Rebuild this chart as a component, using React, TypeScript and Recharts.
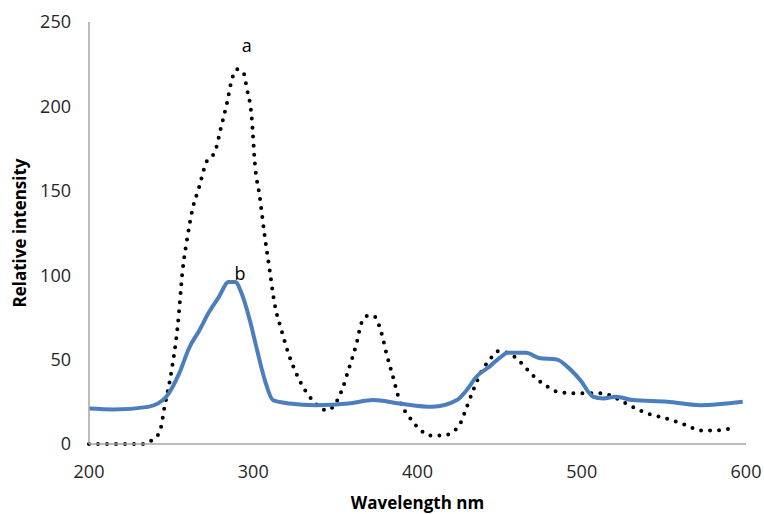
import React from 'react';
import { LineChart, Line, XAxis, YAxis, ReferenceDot, Label } from 'recharts';

// Curve a (dotted): wavelength (nm) and relative intensity
const waveA = [200, 234, 238, 243, 246, 250, 254, 257, 260, 263, 267, 271, 277, 280, 284, 287, 290, 294, 296, 299, 301, 304, 307, 310, 313, 317, 322, 328, 336, 345, 354, 358, 363, 366, 370, 373, 378, 381, 385, 389, 395, 401, 408, 416, 421, 426, 430, 434, 439, 444, 449, 455, 460, 466, 472, 479, 485, 497, 507, 513, 519, 525, 531, 540, 548, 555, 564, 572, 581, 592];
const intensityA = [0, 0, 2, 7, 22, 42, 70, 103, 123, 139, 152, 166, 174, 186, 202, 216, 222, 220, 211, 194, 166, 146, 123, 103, 83, 68, 52, 38, 26, 20, 32, 44, 60, 72, 76, 76, 66, 54, 40, 26, 16, 9, 5, 5, 7, 12, 22, 32, 43, 50, 55, 54, 51, 45, 39, 34, 31, 30, 30, 30, 28, 25, 22, 18, 16, 14, 11, 8, 8, 9.5];

// Curve b (solid blue)
const waveB = [200, 215, 236, 247, 255, 261, 267, 273, 279, 285, 289, 293, 298, 302, 307, 312, 322, 338, 358, 373, 389, 409, 424, 430, 436, 444, 450, 455, 466, 474, 485, 491, 499, 507, 513, 521, 531, 552, 572, 598];
const intensityB = [21, 20.5, 22, 28, 42, 57, 67, 78, 87, 96, 96, 89, 73, 57, 38, 26, 24, 23, 24, 26, 24, 22, 26, 32, 40, 46, 51, 54, 54, 51, 50, 46, 38, 28, 27, 28, 26, 25, 23, 25];

const xTicks = [200, 300, 400, 500, 600];
const yTicks = [0, 50, 100, 150, 200, 250];

// curve labels: [wavelength, intensity]
const labelA = [296, 236];
const labelB = [292, 101];

const dataA = waveA.map((w, i) => ({ w, v: intensityA[i] }));
const dataB = waveB.map((w, i) => ({ w, v: intensityB[i] }));

const font = "'Open Sans', sans-serif";
const tickStyle = { fontSize: 18, fill: '#262626', fontFamily: font };

const App = () => {
  return (
    <div style={{ position: 'absolute', left: 0, top: 0, background: '#fff' }}>
      <LineChart width={764} height={514} margin={{ top: 22, right: 18, left: 19, bottom: 40 }}>
        <XAxis
          type="number"
          dataKey="w"
          domain={[200, 600]}
          ticks={xTicks}
          tickLine={false}
          tickSize={0}
          tickMargin={21}
          height={30}
          stroke="#a6a6a6"
          strokeWidth={1.5}
          tick={tickStyle}
        >
          <Label
            content={({ viewBox }: any) => (
              <text
                x={viewBox.x + viewBox.width / 2}
                y={509}
                textAnchor="middle"
                fontFamily={font}
                fontWeight="bold"
                fontSize={17}
                fill="#000"
              >
                Wavelength nm
              </text>
            )}
          />
        </XAxis>
        <YAxis
          type="number"
          domain={[0, 250]}
          ticks={yTicks}
          tickLine={false}
          tickSize={0}
          tickMargin={18}
          width={70}
          stroke="#a6a6a6"
          strokeWidth={1.5}
          tick={tickStyle}
        >
          <Label
            content={({ viewBox }: any) => {
              const cy = viewBox.y + viewBox.height / 2 - 0;
              return (
                <text
                  x={26}
                  y={cy}
                  transform={`rotate(-90, 26, ${cy})`}
                  textAnchor="middle"
                  fontFamily={font}
                  fontWeight="bold"
                  fontSize={17}
                  fill="#000"
                >
                  Relative intensity
                </text>
              );
            }}
          />
        </YAxis>
        <Line
          data={dataA}
          dataKey="v"
          type="monotone"
          stroke="#000"
          strokeWidth={4}
          strokeDasharray="0 9"
          strokeLinecap="round"
          dot={false}
          isAnimationActive={false}
        />
        <Line
          data={dataB}
          dataKey="v"
          type="monotone"
          stroke="#4a7ebf"
          strokeWidth={4}
          dot={false}
          isAnimationActive={false}
        />
        <ReferenceDot x={labelA[0]} y={labelA[1]} r={0} stroke="none"
          label={{ value: 'a', position: 'center', fontSize: 18, fill: '#000', fontFamily: font }} />
        <ReferenceDot x={labelB[0]} y={labelB[1]} r={0} stroke="none"
          label={{ value: 'b', position: 'center', fontSize: 18, fill: '#000', fontFamily: font }} />
      </LineChart>
    </div>
  );
};

export default App;
